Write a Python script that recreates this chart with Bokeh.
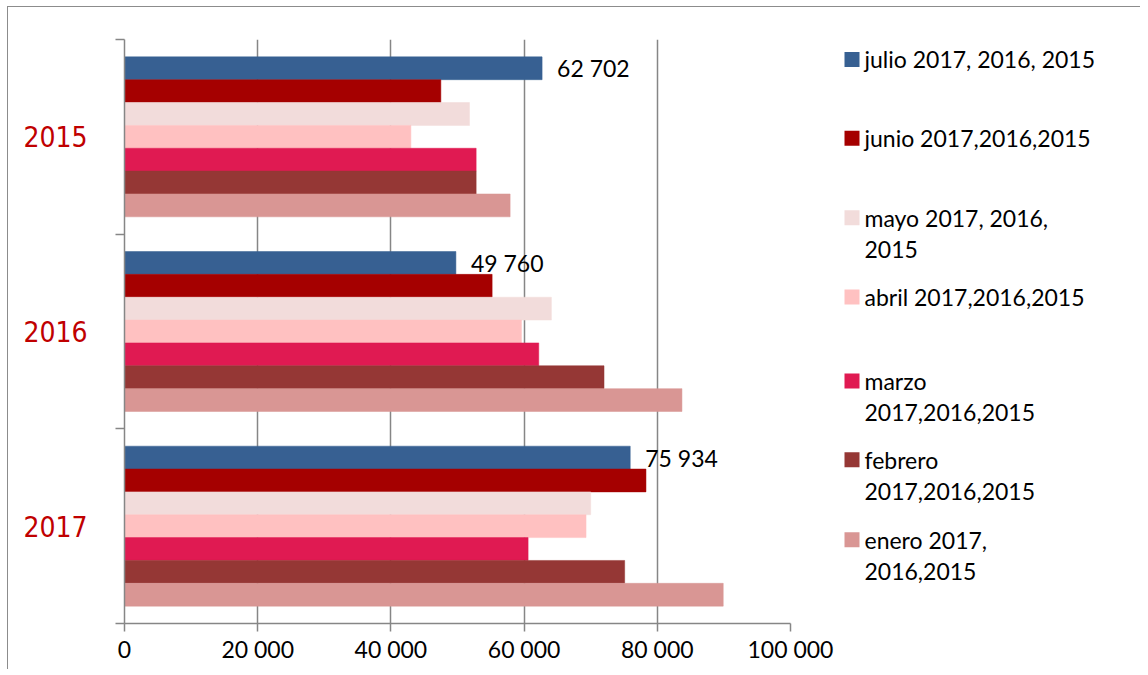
from bokeh.plotting import figure
from bokeh.layouts import row
from bokeh.models import Range1d, FixedTicker, ColumnDataSource
from bokeh.core.properties import value
from bokeh.embed import file_html
from bokeh.resources import INLINE

# ---------------- data ----------------
years = ["2015", "2016", "2017"]          # top to bottom
months = ["julio", "junio", "mayo", "abril", "marzo", "febrero", "enero"]  # top to bottom inside a group
series_names = [
    "julio 2017, 2016, 2015",
    "junio 2017,2016,2015",
    "mayo 2017, 2016,\n2015",
    "abril 2017,2016,2015",
    "marzo\n2017,2016,2015",
    "febrero\n2017,2016,2015",
    "enero 2017,\n2016,2015",
]
# values per month, in the order of years (2015, 2016, 2017)
julio = [62702, 49760, 75934]
junio = [47500, 55200, 78300]
mayo = [51800, 64100, 70000]
abril = [43000, 59600, 69300]
marzo = [52800, 62200, 60600]
febrero = [52800, 72000, 75100]
enero = [57900, 83700, 89900]
series_values = [julio, junio, mayo, abril, marzo, febrero, enero]

x_ticks = [0, 20000, 40000, 60000, 80000, 100000]
x_tick_labels = ["0", "20 000", "40 000", "60 000", "80 000", "100 000"]

# ---------------- style ----------------
colors = ["#376092", "#A50000", "#F2DCDB", "#FFC1C1", "#E01A52", "#953735", "#D99694"]
GRAY = "#868686"
FONT = "Lato"

n_years = len(years)
n_series = len(months)
bar_h = 0.1174
group_centers = [n_years - 0.5 - i for i in range(n_years)]

H = 662
p = figure(width=832, height=H, output_backend="svg", toolbar_location=None,
           x_range=Range1d(0, 100000), y_range=Range1d(0, n_years),
           min_border_left=116, min_border_right=50, min_border_top=32, min_border_bottom=46)
p.outline_line_color = None
p.background_fill_color = "white"
p.border_fill_color = "white"

for j, (vals, col) in enumerate(zip(series_values, colors)):
    ys = [c + ((n_series - 1) / 2 - j) * bar_h for c in group_centers]
    src = ColumnDataSource(dict(y=ys, right=vals))
    p.hbar(y="y", right="right", left=0, height=bar_h, source=src,
           fill_color=col, line_color=col, line_width=0.5)

# data labels for julio
lab_y = [c + ((n_series - 1) / 2) * bar_h for c in group_centers]
lab_txt = [f"{v:,}".replace(",", " ") for v in julio]
p.text(x=julio, y=lab_y, text=lab_txt, x_offset=15, text_baseline="middle",
       text_font=value(FONT), text_font_size="23px", text_color="black")

# axes
xa = p.xaxis[0]
xa.ticker = FixedTicker(ticks=x_ticks, minor_ticks=[])
xa.major_label_overrides = {t: l for t, l in zip(x_ticks, x_tick_labels)}
xa.major_label_text_font = FONT
xa.major_label_text_font_size = "23px"
xa.major_label_text_color = "black"
xa.axis_line_color = GRAY
xa.axis_line_width = 1.5
xa.major_tick_line_color = GRAY
xa.major_tick_line_width = 1.5
xa.major_tick_out = 8
xa.major_tick_in = 0
xa.minor_tick_line_color = None
xa.major_label_standoff = 3

ya = p.yaxis[0]
ya.ticker = FixedTicker(ticks=group_centers, minor_ticks=[float(i) for i in range(n_years + 1)])
ya.major_label_overrides = {c: y for c, y in zip(group_centers, years)}
ya.major_label_text_font = "DejaVu Sans Condensed"
ya.major_label_text_font_size = "28px"
ya.major_label_text_color = "#C00000"
ya.major_label_standoff = 28
ya.axis_line_color = GRAY
ya.axis_line_width = 1.5
ya.major_tick_line_color = None
ya.minor_tick_line_color = GRAY
ya.minor_tick_line_width = 1.5
ya.minor_tick_out = 9
ya.minor_tick_in = 0

p.xgrid.ticker = FixedTicker(ticks=x_ticks)
p.xgrid.grid_line_color = GRAY
p.xgrid.grid_line_width = 1.5
p.ygrid.grid_line_color = None

# ---------------- legend panel ----------------
# frame of this panel is aligned with the main plot frame (page y 40 .. 625)
LW = 300
leg = figure(width=LW, height=H, output_backend="svg", toolbar_location=None,
             x_range=Range1d(0, LW), y_range=Range1d(625, 40),
             min_border=0, min_border_left=0, min_border_right=0)
leg.axis.visible = False
leg.grid.visible = False
leg.outline_line_color = None
leg.border_fill_color = "white"

legend_y = [60, 139, 218.5, 298, 382, 461, 541]
line_gap = 32
sq_x = 11.5
txt_x = 24
leg.rect(x=[sq_x] * n_series, y=legend_y, width=15, height=15, fill_color=colors, line_color=None)
tx, ty, tt = [], [], []
for name, yy in zip(series_names, legend_y):
    for k, line in enumerate(name.split("\n")):
        tx.append(txt_x)
        ty.append(yy + k * line_gap)
        tt.append(line)
leg.text(x=tx, y=ty, text=tt, text_baseline="middle", text_font=value(FONT),
         text_font_size="23px", text_color="black")

layout = row(p, leg, styles={"border-left": "1px solid #8c8c8c", "border-top": "1px solid #8c8c8c",
                             "margin-left": "7px", "margin-top": "6px"})

open("out.html", "w").write(file_html(layout, INLINE))
